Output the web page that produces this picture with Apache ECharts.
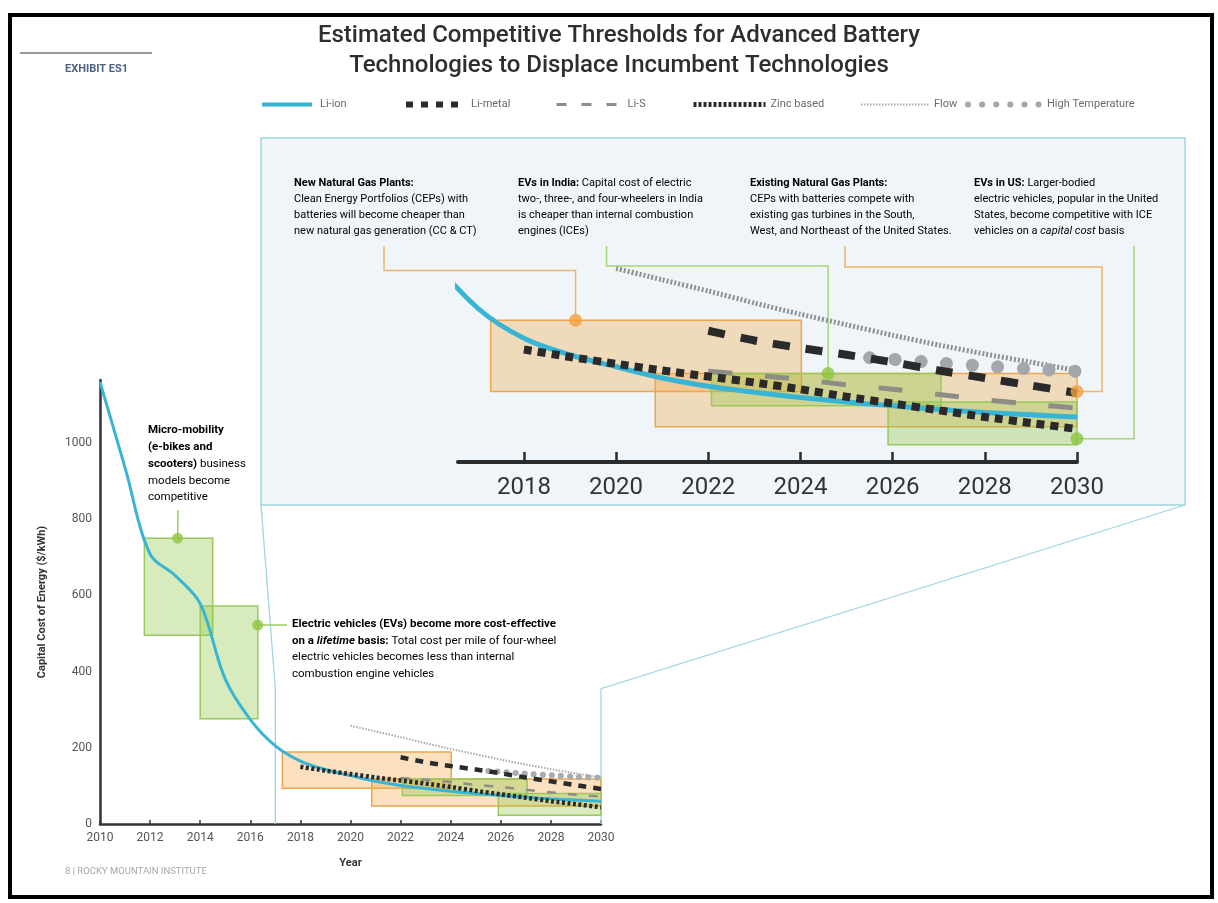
<!DOCTYPE html>
<html>
<head>
<meta charset="utf-8">
<script src="https://cdn.jsdelivr.net/npm/echarts@6/dist/echarts.min.js"></script>
<style>
  html, body { margin: 0; padding: 0; background: #ffffff; }
  #chart { width: 1218px; height: 903px; }
</style>
</head>
<body>
<div id="chart"></div>
<script>
// ---- Battery pack cost trajectories ($/kWh) ----
const liIonYears = [2010, 2011, 2012, 2013, 2014, 2015, 2016, 2017, 2018, 2019, 2020, 2021, 2022, 2023, 2024, 2025, 2026, 2027, 2028, 2029, 2030];
const liIonCost = [1160, 935, 708, 652, 578, 380, 274, 205, 165, 143, 127, 112, 101, 93, 86, 80, 75, 70, 66, 63, 60];
const liMetalYears = [2022, 2023, 2024, 2025, 2026, 2027, 2028, 2029, 2030];
const liMetalCost = [175, 162, 152, 143, 133, 122, 112, 102, 92];
const liSYears = [2022, 2023, 2024, 2025, 2026, 2027, 2028, 2029, 2030];
const liSCost = [121, 116, 110, 103, 97, 90, 83, 77, 72];
const zincYears = [2018, 2019, 2020, 2021, 2022, 2023, 2024, 2025, 2026, 2027, 2028, 2029, 2030];
const zincCost = [150, 140, 131, 122, 114, 106, 97, 87, 78, 69, 60, 52, 44];
const flowYears = [2020, 2021, 2022, 2023, 2024, 2025, 2026, 2027, 2028, 2029, 2030];
const flowCost = [258, 243, 228, 212, 197, 183, 169, 156, 144, 133, 122];
const highTempYears = [2025.5, 2026, 2027, 2028, 2029, 2030];
const highTempCost = [139, 137, 132, 128, 124, 121];

// ---- Competitive threshold windows: years and cost band ----
const windowStart = [2011.77, 2014.0, 2017.28, 2020.85, 2022.07, 2025.9];
const windowEnd = [2014.5, 2016.3, 2024.02, 2030, 2027.05, 2030];
const windowLow = [495, 276, 94, 47, 75, 23];
const windowHigh = [750, 572, 189, 118, 118, 80];
const windowKind = ['green', 'green', 'orange', 'orange', 'green', 'green'];
const windowInCloseUp = [false, false, true, true, true, true];

// ---- Annotation pins ----
const pinYear = [2013.1, 2016.3, 2019.12, 2024.6, 2030, 2030];
const pinCost = [750, 522, 189, 118, 94, 31];
const pinKind = ['green', 'green', 'orange', 'green', 'orange', 'green'];
const pinInCloseUp = [false, false, true, true, true, true];

// ---- Axis ticks ----
const closeUpYearTicks = [2018, 2020, 2022, 2024, 2026, 2028, 2030];

const FONT = 'Roboto, "Open Sans", sans-serif';
const ORANGE = '#f0a23c';
const GREEN = '#8cc63f';
const fills = {
  orange: { fill: 'rgba(242,166,70,0.34)', stroke: '#eea64c' },
  green: { fill: 'rgba(146,200,70,0.36)', stroke: '#97c95c' }
};

// Technology drawing styles: overview chart, close-up and legend sample
const techs = [
  { name: 'Flow', years: flowYears, cost: flowCost, smooth: 0.2,
    main: { color: '#a9a9a9', width: 2, type: [1.5, 1.5] },
    close: { color: '#8e9296', width: 5, type: [2, 2] },
    legend: { color: '#a9a9a9', width: 2, type: [1.5, 1.5] } },
  { name: 'High Temperature', years: highTempYears, cost: highTempCost, smooth: 0.2,
    main: { color: '#a8acb0', width: 6, type: [0.1, 9], cap: 'round' },
    close: { color: '#a3a7ab', width: 13, type: [0.1, 25.6], cap: 'round' },
    legend: { color: '#a3a7ab', width: 6, type: [0.1, 14], cap: 'round' } },
  { name: 'Li-S', years: liSYears, cost: liSCost, smooth: 0.2,
    main: { color: '#8d8d86', width: 2.5, type: [9, 12] },
    close: { color: '#8d8d86', width: 5, type: [24, 33] },
    legend: { color: '#8d8d86', width: 3, type: [10, 15] } },
  { name: 'Li-ion', years: liIonYears, cost: liIonCost, smooth: 0.35,
    main: { color: '#38b4d4', width: 3, type: 'solid' },
    close: { color: '#38b4d4', width: 5, type: 'solid' },
    legend: { color: '#38b4d4', width: 4, type: 'solid' } },
  { name: 'Li-metal', years: liMetalYears, cost: liMetalCost, smooth: 0.2,
    main: { color: '#2a2a2a', width: 4.5, type: [8, 7] },
    close: { color: '#2a2a2a', width: 8, type: [17, 16] },
    legend: { color: '#2a2a2a', width: 6, type: [7, 8] } },
  { name: 'Zinc based', years: zincYears, cost: zincCost, smooth: 0.2,
    main: { color: '#2a2a2a', width: 4.5, type: [3, 2.5] },
    close: { color: '#2a2a2a', width: 8, type: [8, 6] },
    legend: { color: '#2a2a2a', width: 5, type: [3, 2] } }
];

// Legend placement along the header row
const legendSlots = {
  'Li-ion': { left: 255, w: 50, gap: 3 },
  'Li-metal': { left: 398, w: 58, gap: 2 },
  'Li-S': { left: 550, w: 60, gap: 6 },
  'Zinc based': { left: 686, w: 72, gap: 0 },
  'Flow': { left: 855, w: 68, gap: 0 },
  'High Temperature': { left: 960, w: 74, gap: 0 }
};

function lineSeries(t, gridIdx) {
  const st = gridIdx === 0 ? t.main : t.close;
  return {
    type: 'line', name: t.name, xAxisIndex: gridIdx, yAxisIndex: gridIdx,
    data: t.years.map((y, i) => [y, t.cost[i]]),
    symbol: 'none', smooth: t.smooth, clip: true, z: 3, silent: true,
    lineStyle: { color: st.color, width: st.width, type: st.type, cap: st.cap || 'butt' },
    itemStyle: { color: st.color }
  };
}

function windowSeries(gridIdx) {
  const data = [];
  windowStart.forEach((s, i) => {
    if (gridIdx === 0 || windowInCloseUp[i]) {
      data.push([s, windowEnd[i], windowLow[i], windowHigh[i], windowKind[i] === 'green' ? 1 : 0]);
    }
  });
  return {
    type: 'custom', xAxisIndex: gridIdx, yAxisIndex: gridIdx, z: 2, silent: true,
    encode: { x: [0, 1], y: [2, 3] },
    renderItem(params, api) {
      const a = api.coord([api.value(0), api.value(3)]);
      const b = api.coord([api.value(1), api.value(2)]);
      const f = api.value(4) === 1 ? fills.green : fills.orange;
      return {
        type: 'rect',
        shape: { x: a[0], y: a[1], width: b[0] - a[0], height: b[1] - a[1] },
        style: { fill: f.fill, stroke: f.stroke, lineWidth: 1.5 }
      };
    },
    data
  };
}

function pinSeries(gridIdx) {
  const data = [];
  pinYear.forEach((y, i) => {
    if ((gridIdx === 0 && !pinInCloseUp[i]) || (gridIdx === 1 && pinInCloseUp[i])) {
      data.push({ value: [y, pinCost[i]], itemStyle: { color: pinKind[i] === 'green' ? GREEN : ORANGE } });
    }
  });
  return {
    type: 'scatter', xAxisIndex: gridIdx, yAxisIndex: gridIdx, z: 5, silent: true,
    symbol: 'circle', symbolSize: gridIdx === 0 ? 11 : 13, data
  };
}

const series = [windowSeries(0), windowSeries(1)];
techs.forEach(t => { series.push(lineSeries(t, 0)); });
techs.forEach(t => { series.push(lineSeries(t, 1)); });
series.push(pinSeries(0), pinSeries(1));

const legends = techs.map(t => {
  const slot = legendSlots[t.name];
  return {
    left: slot.left, top: 94, itemWidth: slot.w, itemHeight: 12, itemGap: 0,
    selectedMode: false,
    data: [{
      name: t.name,
      lineStyle: { color: t.legend.color, width: t.legend.width, type: t.legend.type, cap: t.legend.cap || 'butt' },
      itemStyle: { opacity: 0 }
    }],
    textStyle: { fontFamily: FONT, fontSize: 11, color: '#6a6a6a', padding: [0, 0, 0, slot.gap] }
  };
});

const option = {
  animation: false,
  backgroundColor: '#ffffff',
  title: {
    text: 'Estimated Competitive Thresholds for Advanced Battery\nTechnologies to Displace Incumbent Technologies',
    left: 614, top: 16, textAlign: 'center',
    textStyle: { fontFamily: FONT, fontSize: 24, fontWeight: 500, color: '#2e2e2e', lineHeight: 30 }
  },
  legend: legends,
  grid: [
    { left: 100, right: 617, top: 380, bottom: 79 },
    { left: 458, right: 141, top: 237, bottom: 441 }
  ],
  xAxis: [
    {
      type: 'value', gridIndex: 0, min: 2010, max: 2030, interval: 2,
      name: 'Year', nameLocation: 'middle', nameGap: 34,
      nameTextStyle: { fontFamily: FONT, fontSize: 11, fontWeight: 'bold', color: '#333' },
      axisLine: { lineStyle: { color: '#333', width: 2.5 } },
      axisTick: { inside: true, length: 4, lineStyle: { color: '#333', width: 1.5 } },
      axisLabel: { fontFamily: FONT, fontSize: 12, color: '#555', margin: 8, formatter: v => String(v) },
      splitLine: { show: false }
    },
    {
      type: 'value', gridIndex: 1, min: 2016.57, max: 2030,
      axisLine: { lineStyle: { color: '#2b2b2b', width: 4 } },
      axisTick: { inside: true, length: 10, customValues: closeUpYearTicks, lineStyle: { color: '#2b2b2b', width: 2.5 } },
      axisLabel: { customValues: closeUpYearTicks, fontFamily: FONT, fontSize: 24, color: '#333', margin: 14, formatter: v => String(v) },
      splitLine: { show: false }
    }
  ],
  yAxis: [
    {
      type: 'value', gridIndex: 0, min: 0, max: 1165, interval: 200,
      name: 'Capital Cost of Energy ($/kWh)', nameLocation: 'middle', nameGap: 52,
      nameTextStyle: { fontFamily: FONT, fontSize: 11, fontWeight: 'bold', color: '#333' },
      axisLine: { show: true, lineStyle: { color: '#333', width: 2.5 } },
      axisTick: { show: false },
      axisLabel: { fontFamily: FONT, fontSize: 12, color: '#555', margin: 8, showMaxLabel: false,
        formatter: v => (v % 200 === 0 ? String(v) : '') },
      splitLine: { show: false }
    },
    { type: 'value', gridIndex: 1, min: 0, max: 300, show: false, splitLine: { show: false } }
  ],
  series
};

const chart = echarts.init(document.getElementById('chart'), null, { renderer: 'canvas' });
chart.setOption(option);

// ---- Frame, close-up panel, connectors and annotation text ----
const toMain = p => chart.convertToPixel({ gridIndex: 0 }, p);
const toClose = p => chart.convertToPixel({ gridIndex: 1 }, p);

const panel = { x: 261, y: 138, w: 924, h: 367 };
const zoomTop = 355;
const mL0 = toMain([2017, 0]), mL1 = toMain([2017, zoomTop]);
const mR0 = toMain([2030, 0]), mR1 = toMain([2030, zoomTop]);

const pinPx = pinYear.map((y, i) => (pinInCloseUp[i] ? toClose([y, pinCost[i]]) : toMain([y, pinCost[i]])));

const connectorLine = (pts, color) => ({
  type: 'polyline', z: 1, silent: true,
  shape: { points: pts },
  style: { stroke: color, lineWidth: 1.5, fill: null }
});

function makeRich(size, lh) {
  return {
    b: { fontFamily: FONT, fontSize: size, fontWeight: 'bold', color: '#262626', lineHeight: lh },
    n: { fontFamily: FONT, fontSize: size, color: '#6a6a6a', lineHeight: lh },
    i: { fontFamily: FONT, fontSize: size, fontStyle: 'italic', color: '#6a6a6a', lineHeight: lh },
    bi: { fontFamily: FONT, fontSize: size, fontWeight: 'bold', fontStyle: 'italic', color: '#262626', lineHeight: lh }
  };
}
const richClose = makeRich(11, 16);
const richMain = makeRich(11.5, 16.8);

const note = (x, y, text, r) => ({
  type: 'text', x, y, z: 2, silent: true,
  style: { text, rich: r, verticalAlign: 'top', align: 'left' }
});

const graphic = [
  // close-up panel background
  { type: 'rect', z: 0, silent: true, shape: { x: panel.x, y: panel.y, width: panel.w, height: panel.h },
    style: { fill: '#eff5f9', stroke: '#9fd6e2', lineWidth: 1.5 } },
  // lines tying the close-up to its range in the overview
  { type: 'polyline', z: 1, silent: true,
    shape: { points: [[panel.x, panel.y + panel.h], mL1, mL0] },
    style: { stroke: '#9fd6e2', lineWidth: 1.3, fill: null } },
  { type: 'polyline', z: 1, silent: true,
    shape: { points: [[panel.x + panel.w, panel.y + panel.h], mR1, mR0] },
    style: { stroke: '#9fd6e2', lineWidth: 1.3, fill: null } },

  // exhibit tag
  { type: 'line', z: 2, silent: true, shape: { x1: 20, y1: 53, x2: 152, y2: 53 }, style: { stroke: '#9a9a9a', lineWidth: 2 } },
  { type: 'text', x: 65, y: 64, z: 2, silent: true,
    style: { text: 'EXHIBIT ES1', fontFamily: FONT, fontSize: 11, fontWeight: 'bold', fill: '#4d6184', verticalAlign: 'top' } },

  // connectors from notes to pins
  connectorLine([[178, 510], pinPx[0]], '#9ccd62'),
  connectorLine([[287, pinPx[1][1]], pinPx[1]], '#9ccd62'),
  connectorLine([[384, 246], [384, 270.5], [pinPx[2][0], 270.5], pinPx[2]], '#f0b56a'),
  connectorLine([[606.5, 246], [606.5, 266], [pinPx[3][0], 266], pinPx[3]], '#a9d37a'),
  connectorLine([[845, 246], [845, 267], [1102, 267], [1102, pinPx[4][1]], pinPx[4]], '#f0b56a'),
  connectorLine([[1134, 246], [1134, pinPx[5][1]], pinPx[5]], '#a9d37a'),

  // close-up notes
  note(294, 175, '{b|New Natural Gas Plants:}\n{n|Clean Energy Portfolios (CEPs) with}\n{n|batteries will become cheaper than}\n{n|new natural gas generation (CC & CT)}', richClose),
  note(518, 175, '{b|EVs in India:}{n| Capital cost of electric}\n{n|two-, three-, and four-wheelers in India}\n{n|is cheaper than internal combustion}\n{n|engines (ICEs)}', richClose),
  note(750, 175, '{b|Existing Natural Gas Plants:}\n{n|CEPs with batteries compete with}\n{n|existing gas turbines in the South,}\n{n|West, and Northeast of the United States.}', richClose),
  note(974, 175, '{b|EVs in US:}{n| Larger-bodied}\n{n|electric vehicles, popular in the United}\n{n|States, become competitive with ICE}\n{n|vehicles on a }{i|capital cost}{n| basis}', richClose),

  // overview notes
  note(148, 422, '{b|Micro-mobility}\n{b|(e-bikes and}\n{b|scooters)}{n| business}\n{n|models become}\n{n|competitive}', richMain),
  note(292, 615.5, '{b|Electric vehicles (EVs) become more cost-effective}\n{b|on a }{bi|lifetime}{b| basis:}{n| Total cost per mile of four-wheel}\n{n|electric vehicles becomes less than internal}\n{n|combustion engine vehicles}', richMain),

  // footer
  { type: 'text', x: 65, y: 867, z: 2, silent: true,
    style: { text: '8 | ROCKY MOUNTAIN INSTITUTE', fontFamily: FONT, fontSize: 9.5, fill: '#a8a8a8', verticalAlign: 'top' } },

  // outer frame
  { type: 'rect', z: 10, silent: true, shape: { x: 10, y: 15, width: 1202, height: 882 },
    style: { fill: null, stroke: '#000000', lineWidth: 4 } }
];

chart.setOption({ graphic });
</script>
</body>
</html>
